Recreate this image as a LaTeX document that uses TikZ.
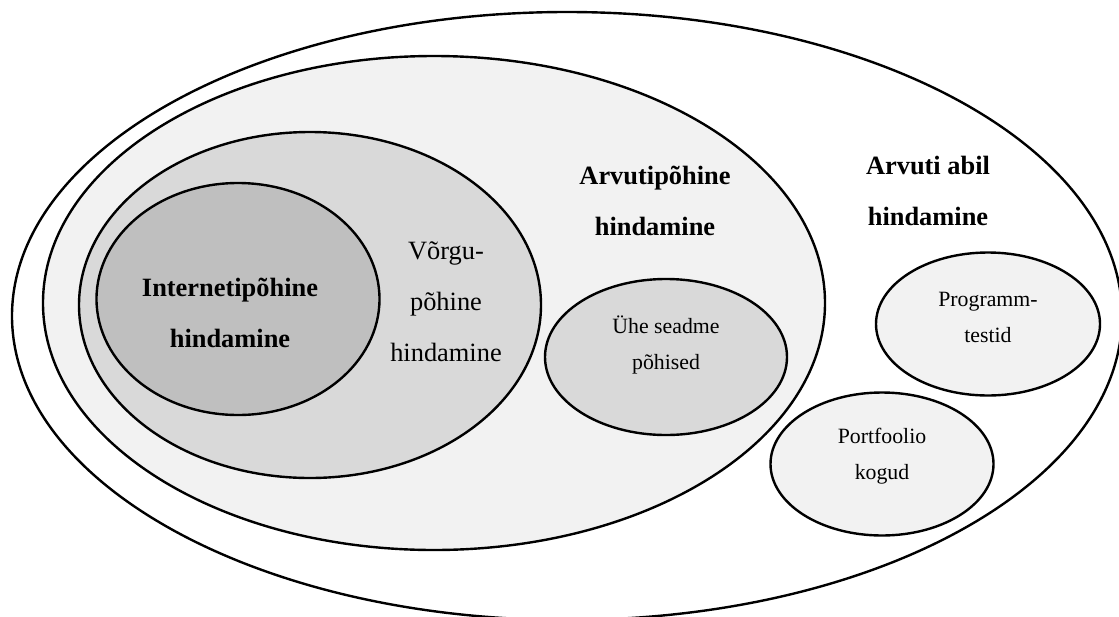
\documentclass[tikz,border=0pt]{standalone}
\usepackage{fontspec}
\setmainfont{Liberation Serif}
\usetikzlibrary{shapes.geometric}

\definecolor{shadeA}{HTML}{F2F2F2}
\definecolor{shadeB}{HTML}{D9D9D9}
\definecolor{shadeC}{HTML}{BFBFBF}

\tikzset{
  zone/.style={ellipse, draw, line width=1.2pt, inner sep=0pt},
  boldlabel/.style={font=\fontsize{13.2}{25.5}\selectfont\bfseries, align=center},
  plainlabel/.style={font=\fontsize{13.2}{25.5}\selectfont, align=center},
  smalllabel/.style={font=\fontsize{10.9}{18}\selectfont, align=center}
}

\begin{document}
\begin{tikzpicture}[x=0.5pt,y=-0.5pt]
\useasboundingbox (0,0) rectangle (1119,616);
\clip (0,0) rectangle (1119,616);

% nested zones
\node[zone, fill=white, minimum width=555pt, minimum height=304pt] (abil) at (567,316) {};
\node[zone, fill=shadeA, minimum width=391pt, minimum height=247pt] (arvuti) at (434,303) {};
\node[zone, fill=shadeB, minimum width=231pt, minimum height=173pt] (vorgu) at (310,305) {};
\node[zone, fill=shadeC, minimum width=141.5pt, minimum height=116pt] (internet) at (238,299) {};

% separate zones
\node[zone, fill=shadeB, minimum width=121pt, minimum height=78pt] (seade) at (666,357) {};
\node[zone, fill=shadeA, minimum width=112pt, minimum height=71.5pt] (programm) at (988,324) {};
\node[zone, fill=shadeA, minimum width=111.5pt, minimum height=71.5pt] (portfoolio) at (882,464) {};

% labels
\node[boldlabel] (internetlabel) at (230,313) {Internetipõhine\\hindamine};
\node[plainlabel] (vorgulabel) at (446,302) {Võrgu-\\põhine\\hindamine};
\node[boldlabel] (arvutilabel) at (655,201) {Arvutipõhine\\hindamine};
\node[boldlabel] (abillabel) at (928,191) {Arvuti abil\\hindamine};
\node[smalllabel] (seadelabel) at (666,345) {Ühe seadme\\põhised};
\node[smalllabel] (programmlabel) at (988,317) {Programm-\\testid};
\node[smalllabel] (portfoliolabel) at (882,456) {Portfoolio\\kogud};

\end{tikzpicture}
\end{document}
